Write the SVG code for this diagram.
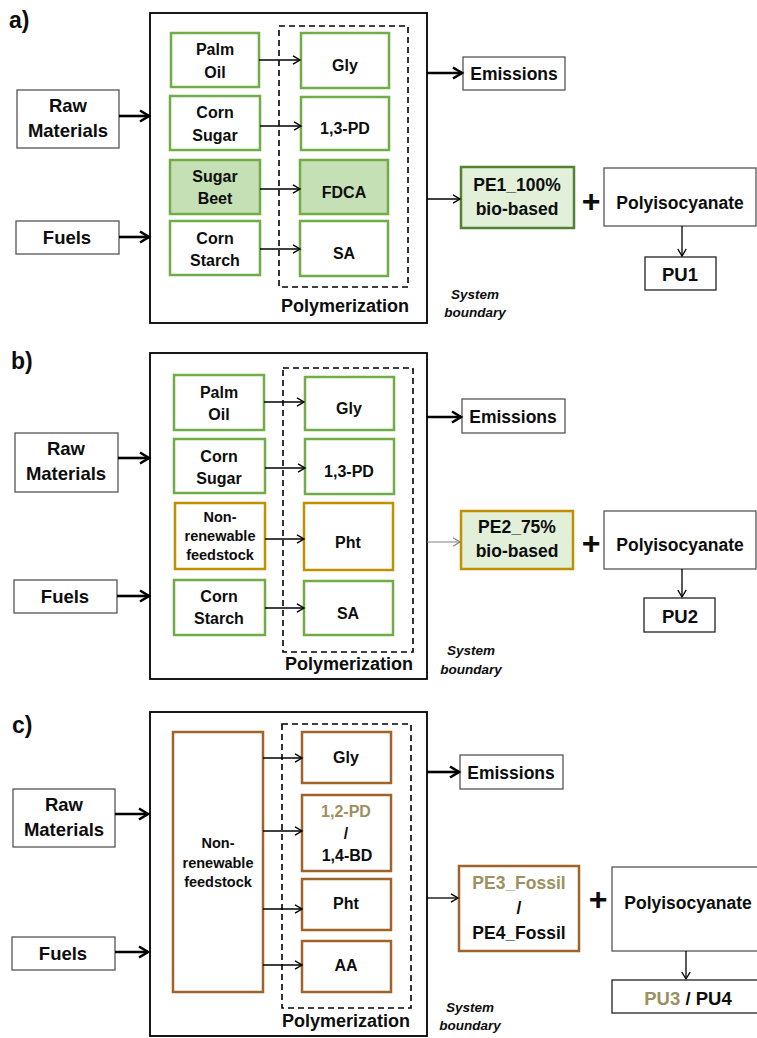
<svg xmlns="http://www.w3.org/2000/svg" width="757" height="1038" viewBox="0 0 757 1038">
<style>
text{font-family:"Liberation Sans",Arial,sans-serif;font-weight:bold;fill:#0d0d0d;text-anchor:middle}
.lab{font-size:23px;text-anchor:start}
.in{font-size:16px}
.sm{font-size:14.5px}
.big{font-size:18.5px}
.mid{font-size:17.5px}
.poly{font-size:18px}
.sys{font-size:13.5px;font-style:italic}
.plus{font-size:32px}
.tan{fill:#9c9062}
.outer{fill:#fff;stroke:#000;stroke-width:1.8}
.dash{fill:none;stroke:#000;stroke-width:1.6;stroke-dasharray:6 4}
.g{fill:#fff;stroke:#70ad47;stroke-width:2.5}
.gf{fill:#c5e0b4;stroke:#70ad47;stroke-width:2.5}
.y{fill:#fff;stroke:#bf9000;stroke-width:2.5}
.br{fill:#fff;stroke:#a0632a;stroke-width:2.5}
.pe1{fill:#e2f0d9;stroke:#548235;stroke-width:2.5}
.pe2{fill:#e2f0d9;stroke:#bf9000;stroke-width:2.5}
.pe3{fill:#fff;stroke:#a0632a;stroke-width:2.5}
.box{fill:#fff;stroke:#555;stroke-width:1.3}
.box2{fill:#fff;stroke:#222;stroke-width:1.3}
.thin{stroke:#000;stroke-width:1.3;fill:none;marker-end:url(#ah)}
.thick{stroke:#000;stroke-width:2.6;fill:none;marker-end:url(#ahT)}
.grey{stroke:#808080;stroke-width:1.2;fill:none;marker-end:url(#ahG)}
</style>
<defs>
<marker id="ah" markerUnits="userSpaceOnUse" markerWidth="12" markerHeight="12" viewBox="0 0 12 12" refX="10" refY="6" orient="auto"><path d="M3,1.8 L10,6 L3,10.2" fill="none" stroke="#000" stroke-width="1.4"/></marker>
<marker id="ahG" markerUnits="userSpaceOnUse" markerWidth="12" markerHeight="12" viewBox="0 0 12 12" refX="10" refY="6" orient="auto"><path d="M3,1.8 L10,6 L3,10.2" fill="none" stroke="#808080" stroke-width="1.2"/></marker>
<marker id="ahT" markerUnits="userSpaceOnUse" markerWidth="16" markerHeight="16" viewBox="0 0 16 16" refX="13" refY="8" orient="auto"><path d="M4,2.5 L13,8 L4,13.5" fill="none" stroke="#000" stroke-width="2.6"/></marker>
</defs>

<!-- ===== Panel a ===== -->
<g id="label-a"><text class="lab" x="9" y="28">a)</text></g>
<g id="a-boundary"><rect class="outer" x="150" y="13" width="277" height="310"/><text class="sys" x="475" y="299">System</text><text class="sys" x="475" y="317">boundary</text></g>
<g id="a-polymerization"><rect class="dash" x="279" y="26" width="129" height="261"/><text class="poly" x="345" y="312">Polymerization</text></g>
<g id="a-palm"><rect class="g" x="171" y="33" width="88" height="54"/><text class="in" x="215" y="55">Palm</text><text class="in" x="215" y="78">Oil</text></g>
<g id="a-cornsugar"><rect class="g" x="170" y="96" width="90" height="54"/><text class="in" x="215" y="118">Corn</text><text class="in" x="215" y="141">Sugar</text></g>
<g id="a-sugarbeet"><rect class="gf" x="170" y="160" width="90" height="54"/><text class="in" x="215" y="182">Sugar</text><text class="in" x="215" y="204">Beet</text></g>
<g id="a-cornstarch"><rect class="g" x="170" y="221" width="90" height="54"/><text class="in" x="215" y="244">Corn</text><text class="in" x="215" y="266">Starch</text></g>
<g id="a-gly"><rect class="g" x="301" y="33" width="88" height="55"/><text class="in" x="345" y="71">Gly</text></g>
<g id="a-13pd"><rect class="g" x="301" y="97" width="88" height="53"/><text class="in" x="345" y="134">1,3-PD</text></g>
<g id="a-fdca"><rect class="gf" x="300" y="160" width="88" height="54"/><text class="in" x="344" y="198">FDCA</text></g>
<g id="a-sa"><rect class="g" x="300" y="221" width="88" height="55"/><text class="in" x="344" y="259">SA</text></g>
<g id="a-raw"><rect class="box" x="17" y="90" width="102" height="58"/><text class="big" x="68" y="112">Raw</text><text class="big" x="68" y="137">Materials</text></g>
<g id="a-fuels"><rect class="box" x="16" y="221" width="103" height="33"/><text class="big" x="67" y="244">Fuels</text></g>
<g id="a-emissions"><rect class="box" x="463" y="57" width="102" height="33"/><text class="mid" x="514" y="80">Emissions</text></g>
<g id="a-pe1"><rect class="pe1" x="461" y="167" width="113" height="61"/><text class="mid" x="517" y="191">PE1_100%</text><text class="mid" x="517" y="215">bio-based</text></g>
<g id="a-plus"><text class="plus" x="591" y="212">+</text></g>
<g id="a-polyiso"><rect class="box" x="604" y="168" width="152" height="58"/><text class="mid" x="680" y="209">Polyisocyanate</text></g>
<g id="a-pu1"><rect class="box2" x="645" y="257" width="71" height="33"/><text class="big" x="680" y="281">PU1</text></g>

<!-- ===== Panel b ===== -->
<g id="label-b"><text class="lab" x="11" y="369">b)</text></g>
<g id="b-boundary"><rect class="outer" x="150" y="353" width="277" height="326"/><text class="sys" x="471" y="655">System</text><text class="sys" x="471" y="674">boundary</text></g>
<g id="b-polymerization"><rect class="dash" x="283" y="368" width="130" height="284"/><text class="poly" x="349" y="670">Polymerization</text></g>
<g id="b-palm"><rect class="g" x="174" y="375" width="90" height="55"/><text class="in" x="219" y="398">Palm</text><text class="in" x="219" y="420">Oil</text></g>
<g id="b-cornsugar"><rect class="g" x="174" y="439" width="91" height="54"/><text class="in" x="219" y="462">Corn</text><text class="in" x="219" y="484">Sugar</text></g>
<g id="b-nonrenew"><rect class="y" x="175" y="503" width="90" height="66"/><text class="sm" x="220" y="522">Non-</text><text class="sm" x="220" y="541">renewable</text><text class="sm" x="220" y="560">feedstock</text></g>
<g id="b-cornstarch"><rect class="g" x="174" y="580" width="91" height="55"/><text class="in" x="219" y="602">Corn</text><text class="in" x="219" y="624">Starch</text></g>
<g id="b-gly"><rect class="g" x="305" y="377" width="89" height="53"/><text class="in" x="349" y="414">Gly</text></g>
<g id="b-13pd"><rect class="g" x="305" y="439" width="89" height="55"/><text class="in" x="349" y="477">1,3-PD</text></g>
<g id="b-pht"><rect class="y" x="304" y="503" width="89" height="67"/><text class="in" x="348" y="548">Pht</text></g>
<g id="b-sa"><rect class="g" x="304" y="581" width="89" height="54"/><text class="in" x="348" y="619">SA</text></g>
<g id="b-raw"><rect class="box" x="15" y="433" width="103" height="59"/><text class="big" x="66" y="455">Raw</text><text class="big" x="66" y="480">Materials</text></g>
<g id="b-fuels"><rect class="box" x="14" y="580" width="103" height="33"/><text class="big" x="65" y="603">Fuels</text></g>
<g id="b-emissions"><rect class="box" x="462" y="399" width="103" height="34"/><text class="mid" x="513" y="423">Emissions</text></g>
<g id="b-pe2"><rect class="pe2" x="461" y="511" width="112" height="58"/><text class="mid" x="517" y="533">PE2_75%</text><text class="mid" x="517" y="557">bio-based</text></g>
<g id="b-plus"><text class="plus" x="591" y="554">+</text></g>
<g id="b-polyiso"><rect class="box" x="604" y="511" width="152" height="58"/><text class="mid" x="680" y="551">Polyisocyanate</text></g>
<g id="b-pu2"><rect class="box2" x="644" y="598" width="71" height="34"/><text class="big" x="680" y="623">PU2</text></g>

<!-- ===== Panel c ===== -->
<g id="label-c"><text class="lab" x="12" y="733">c)</text></g>
<g id="c-boundary"><rect class="outer" x="150" y="712" width="277" height="324"/><text class="sys" x="470" y="1012">System</text><text class="sys" x="470" y="1030">boundary</text></g>
<g id="c-polymerization"><rect class="dash" x="282" y="724" width="129" height="284"/><text class="poly" x="346" y="1027">Polymerization</text></g>
<g id="c-nonrenew"><rect class="br" x="173" y="732" width="90" height="260"/><text class="sm" x="218" y="848">Non-</text><text class="sm" x="218" y="868">renewable</text><text class="sm" x="218" y="887">feedstock</text></g>
<g id="c-gly"><rect class="br" x="302" y="732" width="89" height="51"/><text class="in" x="346" y="763">Gly</text></g>
<g id="c-pdbd"><rect class="br" x="302" y="795" width="89" height="76"/><text class="in tan" x="346" y="817">1,2-PD</text><text class="in" x="346" y="839">/</text><text class="in" x="347" y="861">1,4-BD</text></g>
<g id="c-pht"><rect class="br" x="302" y="879" width="89" height="51"/><text class="in" x="346" y="909">Pht</text></g>
<g id="c-aa"><rect class="br" x="302" y="941" width="89" height="51"/><text class="in" x="346" y="971">AA</text></g>
<g id="c-raw"><rect class="box" x="13" y="789" width="102" height="58"/><text class="big" x="64" y="811">Raw</text><text class="big" x="64" y="836">Materials</text></g>
<g id="c-fuels"><rect class="box" x="12" y="937" width="103" height="33"/><text class="big" x="63" y="960">Fuels</text></g>
<g id="c-emissions"><rect class="box" x="460" y="755" width="103" height="34"/><text class="mid" x="511" y="779">Emissions</text></g>
<g id="c-pe34"><rect class="pe3" x="459" y="866" width="120" height="85"/><text class="mid tan" x="519" y="889">PE3_Fossil</text><text class="mid" x="519" y="914">/</text><text class="mid" x="519" y="939">PE4_Fossil</text></g>
<g id="c-plus"><text class="plus" x="598" y="910">+</text></g>
<g id="c-polyiso"><rect class="box" x="612" y="867" width="152" height="84"/><text class="mid" x="688" y="909">Polyisocyanate</text></g>
<g id="c-pu34"><rect class="box2" x="612" y="980" width="152" height="33"/><text class="big" x="688" y="1005"><tspan class="tan">PU3</tspan> / PU4</text></g>

<!-- ===== Connectors ===== -->
<g id="connectors">
<line class="thin" x1="259" y1="60" x2="300" y2="60"/>
<line class="thin" x1="260" y1="126" x2="301" y2="126"/>
<line class="thin" x1="260" y1="189" x2="300" y2="189"/>
<line class="thin" x1="260" y1="249" x2="300" y2="249"/>
<line class="thick" x1="119" y1="116" x2="149" y2="116"/>
<line class="thick" x1="119" y1="237" x2="149" y2="237"/>
<line class="thick" x1="427" y1="73" x2="462" y2="73"/>
<line class="thin" x1="427" y1="199" x2="460" y2="199"/>
<line class="thin" x1="682" y1="226" x2="682" y2="256"/>

<line class="thin" x1="264" y1="402" x2="304" y2="402"/>
<line class="thin" x1="265" y1="468" x2="305" y2="468"/>
<line class="thin" x1="265" y1="539" x2="304" y2="539"/>
<line class="thin" x1="265" y1="608" x2="304" y2="608"/>
<line class="thick" x1="118" y1="458" x2="149" y2="458"/>
<line class="thick" x1="117" y1="596" x2="149" y2="596"/>
<line class="thick" x1="427" y1="417" x2="461" y2="417"/>
<line class="grey" x1="427" y1="542" x2="460" y2="542"/>
<line class="thin" x1="682" y1="569" x2="682" y2="597"/>

<line class="thin" x1="263" y1="758" x2="302" y2="758"/>
<line class="thin" x1="263" y1="831" x2="302" y2="831"/>
<line class="thin" x1="263" y1="909" x2="302" y2="909"/>
<line class="thin" x1="263" y1="965" x2="302" y2="965"/>
<line class="thick" x1="115" y1="814" x2="148" y2="814"/>
<line class="thick" x1="115" y1="952" x2="148" y2="952"/>
<line class="thick" x1="427" y1="772" x2="459" y2="772"/>
<line class="thin" x1="427" y1="898" x2="458" y2="898"/>
<line class="thin" x1="686" y1="951" x2="686" y2="979"/>
</g>
</svg>
